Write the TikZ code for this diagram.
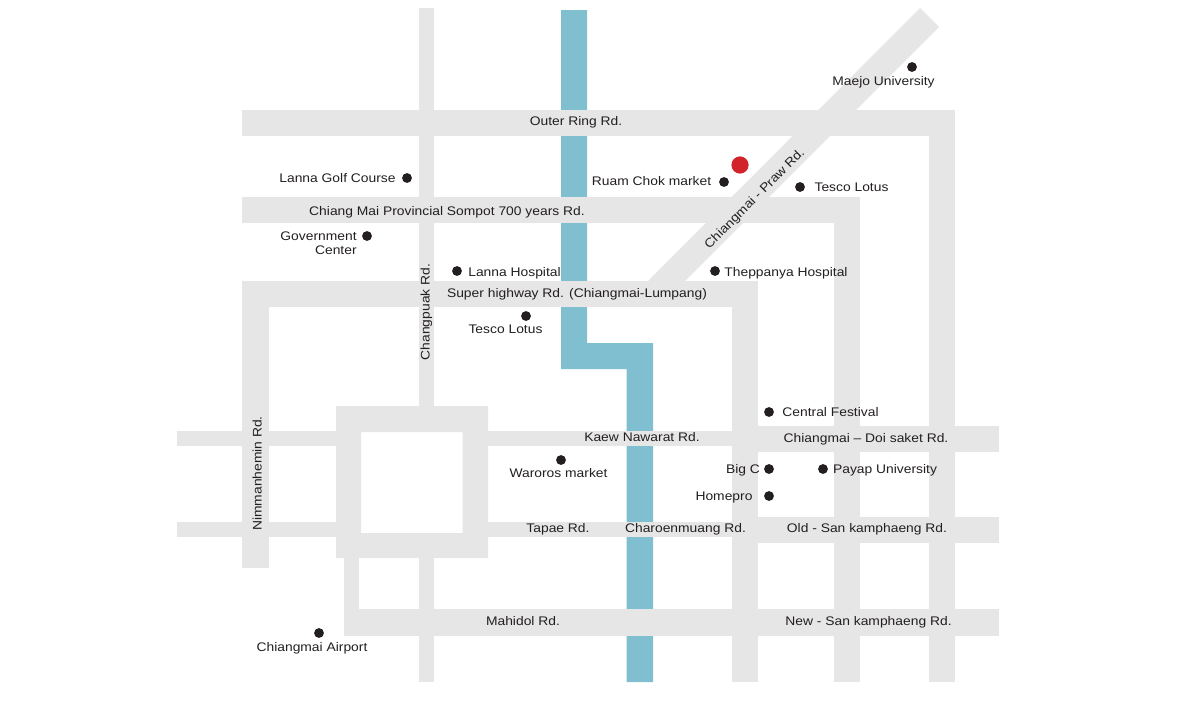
\documentclass[tikz,border=0pt]{standalone}
\usepackage{fontspec}
\setmainfont[FakeStretch=1.11]{Liberation Sans}
\definecolor{roadgray}{HTML}{E6E6E6}
\definecolor{rivercol}{HTML}{80BFCF}
\definecolor{inkcol}{HTML}{231F20}
\definecolor{pincol}{HTML}{D2232A}
\tikzset{
	road/.style={fill=roadgray},
	river/.style={fill=rivercol},
	spot/.style={circle,fill=inkcol,inner sep=0pt,minimum size=5.6pt},
	pin/.style={circle,fill=pincol,inner sep=0pt,minimum size=9.8pt},
	place/.style={text=inkcol,font=\fontsize{7.1pt}{8pt}\selectfont,inner sep=0pt,anchor=mid},
}
\begin{document}
\begin{tikzpicture}[x=0.02cm,y=-0.02cm]
	\useasboundingbox (0,0) rectangle (1200,700); % Keeps the page size...

		\fill[river] (561,10) -- (587,10) -- (587,343) -- (653,343) -- (653,682) -- (626.5,682) -- (626.5,369) -- (561,369) -- cycle;% River

		\fill[road] (920,8) -- (939,27) -- (685,281) -- (648,281) -- cycle;% Praw road

		\foreach \Left/\Top/\Right/\Bottom in {
		242/110/955/136, 242/197/860/223, 242/281/758/307, 177/431/336/445.5, 488/431/732/445.5, 732/426/999/452, 177/522/336/537, 488/522/732/537, 732/517/999/543, 344/609/999/636,
		419/8/433.5/406, 419/558/433.5/682, 242/281/269/568, 344/558/359/636, 732/281/758/682, 834/197/860/682, 929/110/955/682
		}{\fill[road] (\Left,\Top) rectangle (\Right,\Bottom);}

		\fill[road,even odd rule] (336,406) rectangle (488,558) (361,432) rectangle (462.5,533);% Old city moat

		\foreach \SpotName/\SpotX/\SpotY in {
		GolfSpot/407/178, GovSpot/367/236, LannaSpot/457/271, TescoSpotA/526/316, RuamSpot/724/182, TescoSpotB/800/187, TheppanyaSpot/715/271, MaejoSpot/912/67, CentralSpot/769/412, WarorosSpot/561/460, BigCSpot/769/469, PayapSpot/823/469, HomeproSpot/769/496, AirportSpot/319/633
		}{\node[spot] (\SpotName) at (\SpotX,\SpotY) {};}
		\node[pin] (HomePin) at (740,165) {};

		% Roads
		\node[place] (OuterRing) at (576,121) {Outer Ring Rd.};
		\node[place] (Sompot) at (447,210.5) {Chiang Mai Provincial Sompot 700 years Rd.};
		\node[place] (SuperHighway) at (577,293) {Super highway Rd. (Chiangmai-Lumpang)};
		\node[place] (Kaew) at (642,437) {Kaew Nawarat Rd.};
		\node[place] (DoiSaket) at (866,438) {Chiangmai -- Doi saket Rd.};
		\node[place] (Tapae) at (558,528) {Tapae Rd.};
		\node[place] (Charoen) at (685.5,528) {Charoenmuang Rd.};
		\node[place] (OldSan) at (867,528) {Old - San kamphaeng Rd.};
		\node[place] (Mahidol) at (523,621) {Mahidol Rd.};
		\node[place] (NewSan) at (868.5,621) {New - San kamphaeng Rd.};
		\node[place,rotate=90] (Changpuak) at (425,312) {Changpuak Rd.};
		\node[place,rotate=90] (Nimman) at (257,473.5) {Nimmanhemin Rd.};
		\node[place,rotate=45] (Praw) at (754,198) {Chiangmai - Praw Rd.};

		% Places
		\node[place] (GolfText) at (337.5,178) {Lanna Golf Course};
		\node[place,align=right,anchor=east] (GovText) at (357,243) {Government\\Center};
		\node[place] (RuamText) at (651.5,181) {Ruam Chok market};
		\node[place] (TescoTextB) at (851.5,187) {Tesco Lotus};
		\node[place] (MaejoText) at (883.5,81) {Maejo University};
		\node[place] (TheppanyaText) at (786,272) {Theppanya Hospital};
		\node[place] (LannaText) at (514.5,272) {Lanna Hospital};
		\node[place] (TescoTextA) at (505.5,329) {Tesco Lotus};
		\node[place] (CentralText) at (830.5,412) {Central Festival};
		\node[place] (WarorosText) at (558.5,473) {Waroros market};
		\node[place] (BigCText) at (743,469) {Big C};
		\node[place] (PayapText) at (885,469) {Payap University};
		\node[place] (HomeproText) at (724,496) {Homepro};
		\node[place] (AirportText) at (312,647) {Chiangmai Airport};
	\end{tikzpicture}
\end{document}
